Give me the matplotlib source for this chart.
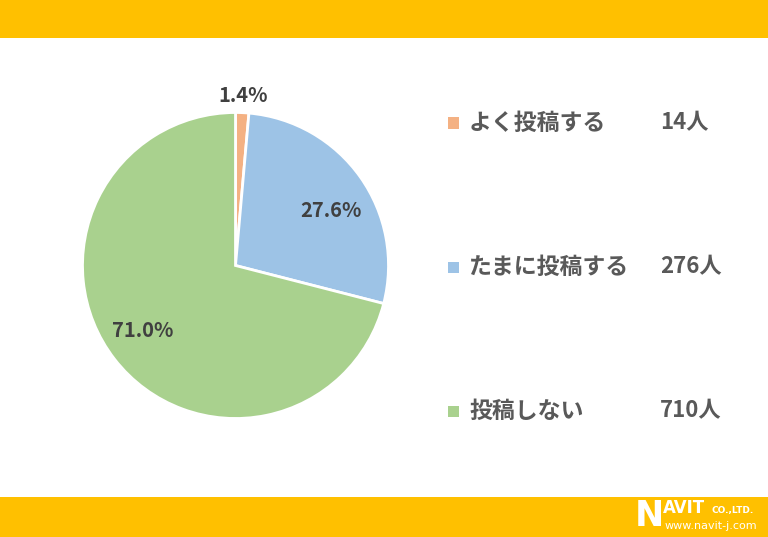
import matplotlib.pyplot as plt
import matplotlib.patches as mpatches
import numpy as np

plt.rcParams['font.family'] = ['Noto Sans CJK JP', 'DejaVu Sans']

# data
labels = ['よく投稿する', 'たまに投稿する', '投稿しない']
counts = [14, 276, 710]
colors = ['#F4B183', '#9DC3E6', '#A9D18E']
label_dist = [1.11, 0.72, 0.74]
label_shift = [0, -5.5, -3]   # degrees, excel "best fit" nudges

W, H = 768, 537
fig = plt.figure(figsize=(W / 100, H / 100), dpi=100)
fig.patch.set_facecolor('white')

# yellow bands top and bottom
fig.patches.append(mpatches.Rectangle((0, 1 - 38 / H), 1, 38 / H, transform=fig.transFigure,
                                      facecolor='#FFC000', edgecolor='none', zorder=0))
fig.patches.append(mpatches.Rectangle((0, 0), 1, 40 / H, transform=fig.transFigure,
                                      facecolor='#FFC000', edgecolor='none', zorder=0))

# pie: center (235.5, 265.5), radius 153 px
cx, cy, r = 235.5, 265.5, 153
ax = fig.add_axes([(cx - r) / W, (H - cy - r) / H, 2 * r / W, 2 * r / H])
total = sum(counts)
wedges, _ = ax.pie(counts, colors=colors, startangle=90, counterclock=False,
                   wedgeprops=dict(edgecolor='white', linewidth=2))
ax.set_aspect('equal')
ax.set_xlim(-1, 1)
ax.set_ylim(-1, 1)
ax.axis('off')

for w, c, d, s in zip(wedges, counts, label_dist, label_shift):
    ang = np.deg2rad((w.theta1 + w.theta2) / 2 + s)
    ax.text(d * np.cos(ang), d * np.sin(ang), f'{c / total * 100:.1f}%',
            ha='center', va='center', fontsize=14.5, fontweight='bold',
            color='#404040', clip_on=False)

# legend rows
rows_y = [123, 267, 411]
for lab, c, col, y in zip(labels, counts, colors, rows_y):
    fy = 1 - y / H
    fig.patches.append(mpatches.Rectangle((448 / W, fy - 5.5 / H), 11 / W, 11 / H,
                                          transform=fig.transFigure, facecolor=col,
                                          edgecolor='none'))
    fig.text(469 / W, fy, lab, ha='left', va='center', fontsize=16.5,
             fontweight='bold', color='#595959')
    fig.text(660 / W, fy, f'{c}人', ha='left', va='center', fontsize=16,
             fontweight='bold', color='#595959')

# logo
fig.text(635 / W, 1 - 516 / H, 'N', ha='left', va='center', fontsize=25,
         fontweight='bold', color='white', family='DejaVu Sans')
fig.text(663 / W, 1 - 508 / H, 'AVIT', ha='left', va='center', fontsize=12,
         fontweight='bold', color='white', family='DejaVu Sans')
fig.text(712 / W, 1 - 511 / H, 'CO.,LTD.', ha='left', va='center', fontsize=6.5,
         fontweight='bold', color='white', family='DejaVu Sans')
fig.text(665 / W, 1 - 526 / H, 'www.navit-j.com', ha='left', va='center', fontsize=8,
         color='white', family='DejaVu Sans')

fig.savefig('out.png', dpi=100, facecolor='white')
